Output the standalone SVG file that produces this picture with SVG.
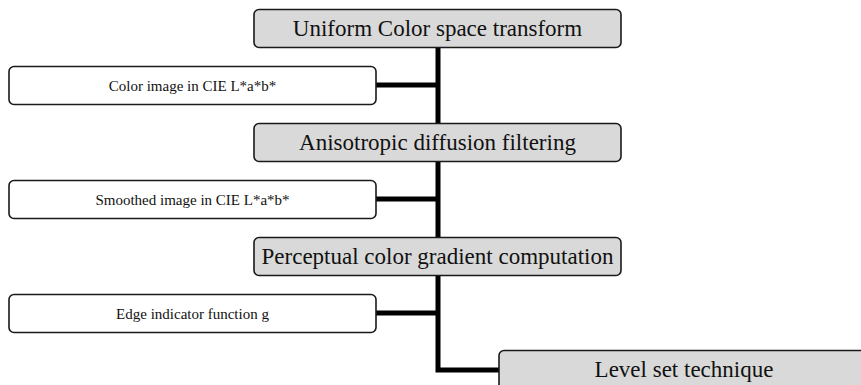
<svg xmlns="http://www.w3.org/2000/svg" width="861" height="385" viewBox="0 0 861 385">
  <style>
    .step rect { fill: #d9d9d9; stroke: #1a1a1a; stroke-width: 1.6; }
    .data rect { fill: #ffffff; stroke: #1a1a1a; stroke-width: 1.6; }
    .step text { font-family: "Liberation Serif", "Times New Roman", serif; font-size: 23px; fill: #111; text-anchor: middle; }
    .data text { font-family: "Liberation Serif", "Times New Roman", serif; font-size: 15px; fill: #111; text-anchor: middle; }
    .link { stroke: #000; stroke-width: 5; fill: none; }
  </style>
  <rect width="861" height="385" fill="#ffffff"/>

  <!-- trunk and branches -->
  <g id="connectors">
    <path class="link" d="M438 47 V370 H500"/>
    <path class="link" d="M376 85 H438"/>
    <path class="link" d="M376 199 H438"/>
    <path class="link" d="M376 313 H438"/>
  </g>

  <g id="uniform-color-space" class="step">
    <rect x="254" y="9.5" width="367" height="38" rx="5"/>
    <text x="437.5" y="36">Uniform Color space transform</text>
  </g>
  <g id="color-image-lab" class="data">
    <rect x="9" y="66.5" width="367" height="38" rx="5"/>
    <text x="192.5" y="91">Color image in CIE L*a*b*</text>
  </g>
  <g id="anisotropic-diffusion" class="step">
    <rect x="254" y="123.5" width="367" height="38" rx="5"/>
    <text x="437.5" y="150">Anisotropic diffusion filtering</text>
  </g>
  <g id="smoothed-image-lab" class="data">
    <rect x="9" y="180.5" width="367" height="38" rx="5"/>
    <text x="192.5" y="205">Smoothed image in CIE L*a*b*</text>
  </g>
  <g id="perceptual-gradient" class="step">
    <rect x="254" y="237.5" width="367" height="38" rx="5"/>
    <text x="437.5" y="264">Perceptual color gradient computation</text>
  </g>
  <g id="edge-indicator" class="data">
    <rect x="9" y="294.5" width="367" height="38" rx="5"/>
    <text x="192.5" y="319">Edge indicator function g</text>
  </g>
  <g id="level-set" class="step">
    <rect x="499" y="350.5" width="370" height="40" rx="5"/>
    <text x="684" y="377">Level set technique</text>
  </g>
</svg>
